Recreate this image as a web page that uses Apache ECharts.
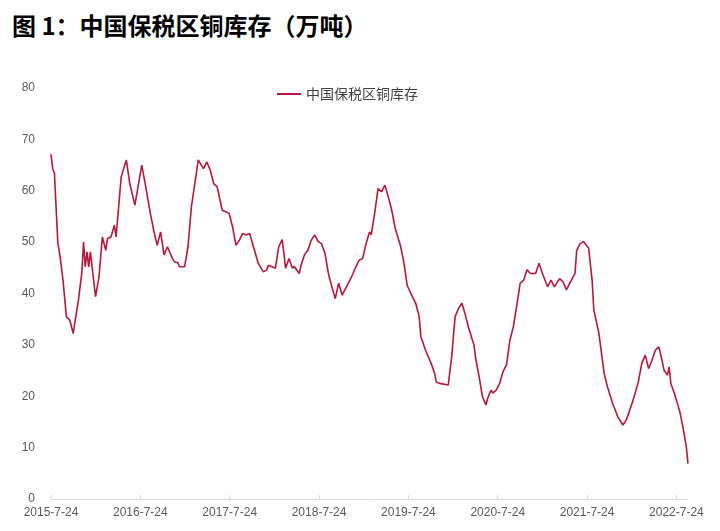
<!DOCTYPE html>
<html>
<head>
<meta charset="utf-8">
<script src="https://cdn.jsdelivr.net/npm/echarts@6/dist/echarts.min.js"></script>
<style>
  html, body { margin: 0; padding: 0; background: #fff; }
  #title { position: absolute; left: 12px; top: 7px; font-family: "Noto Sans CJK SC", sans-serif; font-weight: bold; font-size: 24px; color: #000; }
  #chart { width: 720px; height: 531px; }
</style>
</head>
<body>
<div id="title">图 1：中国保税区铜库存（万吨）</div>
<div id="chart"></div>
<script>
const startDate = '2015-07-24';
const seriesName = '中国保税区铜库存';
const tickLabels = ['2015-7-24', '2016-7-24', '2017-7-24', '2018-7-24', '2019-7-24', '2020-7-24', '2021-7-24', '2022-7-24'];
const yTicks = [0, 10, 20, 30, 40, 50, 60, 70, 80];
// weeks since 2015-07-24
const weeks = [0,1,2,4,5,7,9,11,13,14,16,18,19,20,21,22,23,24,26,28,30,32,33,35,37,38,39,41,44,46,49,53,55,58,60,62,64,66,68,70,71,72,74,75,78,80,82,84,86,89,91,93,95,97,100,102,104,106,108,110,112,114,116,118,121,124,126,127,129,131,133,135,136,137,139,141,142,145,146,148,150,152,154,156,158,160,162,164,166,168,170,173,176,178,180,182,184,186,187,189,191,193,195,197,199,201,204,206,208,211,213,215,216,219,222,224,225,227,232,234,236,238,240,242,244,247,248,250,252,254,255,257,258,260,262,264,266,268,270,272,274,276,278,280,283,285,287,290,292,294,297,299,301,303,306,307,309,311,314,316,317,320,321,323,325,328,331,334,336,338,340,343,345,347,349,351,353,355,357,358,360,361,362,364,367,369,371,372];
const values = [67.1,64.3,63.4,49.8,47.9,42.6,35.5,34.8,32.2,34.5,38.7,44,50,45.2,48.1,45.2,48.1,47.8,39.4,43.2,51,48.4,50.7,51,53.3,51,54.9,62.7,66,61.4,57.2,65,61.4,55.6,52.3,49.4,52,47.5,49.1,47.5,46.8,46.2,46,45.2,45.2,49.1,56.9,61.4,66,64.3,65.6,64,61.4,60.8,56.2,55.9,55.6,53,49.4,50.4,51.7,51.4,51.7,49.4,45.9,44.2,44.6,45.5,45.2,44.9,49.1,50.5,47.8,44.9,46.8,44.9,45.3,43.9,45.5,47.5,48.4,50.4,51.4,50.1,49.7,47.8,43.9,41.3,39,42,39.7,41.6,43.6,45.2,46.5,46.8,49.7,52,51.4,55.6,60.4,59.8,61.1,58.8,56.2,52.7,49.4,46.2,41.6,39.4,38.1,35.5,31.6,28.7,26.4,24.5,22.8,22.5,22.2,27.7,35.5,37.1,38.1,35.8,33.2,30,27.4,23.8,19.9,18.3,19.6,21.2,20.6,21.2,22.5,24.8,26.1,30.9,33.5,37.7,42,42.6,44.6,43.9,43.9,45.9,43.9,41.3,42.6,41.3,42.9,42.3,40.7,42,43.9,48.4,49.7,50.1,48.8,42.6,36.8,32.2,29.6,24.5,21.8,18.6,16,14.4,15.4,17.3,19.3,22.8,26.4,28,25.4,27,29,29.6,26.7,25.1,24.1,25.7,22.5,20.6,17.3,14.1,10.2,6.9];

const DAYS_PER_YEAR = 365.25;
const data = weeks.map((w, i) => [w * 7, values[i]]);
const lastDay = weeks[weeks.length - 1] * 7;
const lineColor = '#BC1638';

const chart = echarts.init(document.getElementById('chart'));
chart.setOption({
  animation: false,
  grid: { left: 51, right: 32, top: 88, bottom: 32 },
  legend: {
    left: 272, top: 82,
    icon: 'rect',
    itemWidth: 24, itemHeight: 2,
    itemGap: 6,
    textStyle: { fontSize: 14, color: '#404040', fontFamily: 'Noto Sans CJK SC' },
    data: [seriesName]
  },
  xAxis: {
    type: 'value',
    min: 0, max: lastDay,
    interval: DAYS_PER_YEAR,
    axisLine: { show: true, lineStyle: { color: '#d9d9d9', width: 1 } },
    axisTick: { show: true, length: 4, inside: true, lineStyle: { color: '#d9d9d9' } },
    splitLine: { show: false },
    axisLabel: {
      showMaxLabel: false,
      margin: 8,
      fontSize: 12, color: '#595959', fontFamily: 'Liberation Sans',
      formatter: function (v) {
        const k = v / DAYS_PER_YEAR;
        const r = Math.round(k);
        if (Math.abs(k - r) > 0.01 || r >= tickLabels.length) return '';
        return tickLabels[r];
      }
    }
  },
  yAxis: {
    type: 'value',
    min: yTicks[0], max: yTicks[yTicks.length - 1], interval: 10,
    axisLine: { show: false },
    axisTick: { show: false },
    splitLine: { show: false },
    axisLabel: { margin: 16, fontSize: 12, color: '#595959', fontFamily: 'Liberation Sans' }
  },
  series: [{
    name: seriesName,
    type: 'line',
    data: data,
    symbol: 'none',
    lineStyle: { color: lineColor, width: 1.6 },
    itemStyle: { color: lineColor }
  }]
});
</script>
</body>
</html>
